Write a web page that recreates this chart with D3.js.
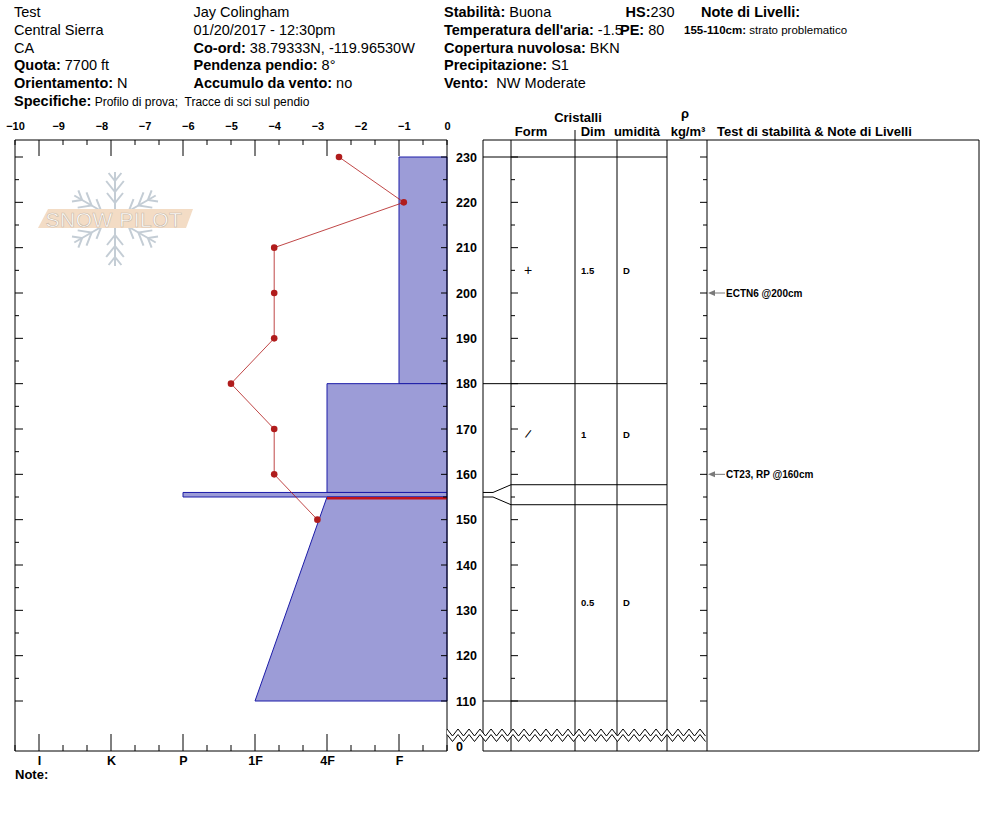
<!DOCTYPE html>
<html>
<head>
<meta charset="utf-8">
<script src="https://cdn.jsdelivr.net/npm/d3@7"></script>
<style>
  body { margin: 0; background: #fff; }
  text { font-family: Arial, "Liberation Sans", sans-serif; white-space: pre; }
</style>
</head>
<body>
<div id="chart"></div>
<script>
// ---- data ----
const headerCol1 = [["", "Test"], ["", "Central Sierra"], ["", "CA"], ["Quota:", " 7700 ft"], ["Orientamento:", " N"]];
const headerCol2 = [["", "Jay Colingham"], ["", "01/20/2017 - 12:30pm"], ["Co-ord:", " 38.79333N, -119.96530W"], ["Pendenza pendio:", " 8°"], ["Accumulo da vento:", " no"]];
const headerCol3 = [["Stabilità:", " Buona"], ["Temperatura dell'aria:", " -1.5"], ["Copertura nuvolosa:", " BKN"], ["Precipitazione:", " S1"], ["Vento:", "  NW Moderate"]];

const hardnessNames = ["F", "4F", "1F", "P", "K", "I"];
const tempTicks = [-10, -9, -8, -7, -6, -5, -4, -3, -2, -1, 0];

const layerTop = [230, 180, 156, 155];
const layerBottom = [180, 156, 155, 110];
const hardTop = ["F", "4F", "P", "4F"];
const hardBottom = ["F", "4F", "P", "1F"];
const grainForm = ["+", "/", "", ""];
const grainSize = ["1.5", "1", "", "0.5"];
const wetness = ["D", "D", "", "D"];

const tempDepth = [230, 220, 210, 200, 190, 180, 170, 160, 150];
const tempValue = [-2.5, -1, -4, -4, -4, -5, -4, -4, -3];

const testDepth = [200, 160];
const testLabel = ["ECTN6 @200cm", "CT23, RP @160cm"];

const criticalDepth = 155;
const depthTicks = d3.range(110, 231, 5);
const depthLabels = d3.range(110, 231, 10);

// ---- layout ----
const W = 994, H = 840;
const pLeft = 15, pRight = 447, pTop = 140, pBottom = 751;
const cols = [483, 511, 575, 617, 667, 707, 979];
const rowY = i => 17 + i * 17.8;

const svg = d3.select("#chart").append("svg")
    .attr("width", W)
    .attr("height", H);

const tempX = d3.scaleLinear().domain([-10, 0]).range([pLeft, pRight]);
const hardX = d3.scaleLinear().domain([1 / 3, 19 / 3]).range([pRight, pLeft]);
const hx = name => hardX(hardnessNames.indexOf(name) + 1);
const depthY = d3.scaleLinear().domain([110, 230]).range([701, 157]);

// ---- header ----
function headerColumn(rows, x) {
    rows.forEach((r, i) => {
        const t = svg.append("text")
            .attr("x", x)
            .attr("y", rowY(i))
            .style("font-size", "14.5px");
        t.append("tspan").style("font-weight", "bold").text(r[0]);
        t.append("tspan").text(r[1]);
    });
}
headerColumn(headerCol1, 14);
headerColumn(headerCol2, 193.5);
headerColumn(headerCol3, 444);

const hs = svg.append("text").attr("x", 625.5).attr("y", rowY(0)).style("font-size", "14.5px");
hs.append("tspan").style("font-weight", "bold").text("HS:");
hs.append("tspan").text("230");
const pe = svg.append("text").attr("x", 620).attr("y", rowY(1)).style("font-size", "14.5px");
pe.append("tspan").style("font-weight", "bold").text("PE:");
pe.append("tspan").text(" 80");
svg.append("text").attr("x", 701).attr("y", rowY(0))
    .style("font-size", "14.5px").style("font-weight", "bold").text("Note di Livelli:");
const ln = svg.append("text").attr("x", 684).attr("y", rowY(1) - 0.5).style("font-size", "11.5px");
ln.append("tspan").style("font-weight", "bold").text("155-110cm:");
ln.append("tspan").text(" strato problematico");

const spec = svg.append("text").attr("x", 14).attr("y", rowY(5));
spec.append("tspan").style("font-size", "14.5px").style("font-weight", "bold").text("Specifiche:");
spec.append("tspan").style("font-size", "12px").text(" Profilo di prova;  Tracce di sci sul pendio");

// ---- watermark logo ----
const logo = svg.append("g").attr("transform", "translate(115,219)");
d3.range(6).forEach(k => {
    const arm = logo.append("g").attr("transform", `rotate(${k * 60})`)
        .attr("stroke", "#c4cdd5").attr("stroke-width", 2).attr("fill", "none");
    arm.append("line").attr("x1", 0).attr("y1", 0).attr("x2", 0).attr("y2", -47);
    [[-16, 10], [-27, 11], [-38, 8]].forEach(([p, s]) => {
        arm.append("path").attr("d", `M${-s * 0.8},${p - s} L0,${p} L${s * 0.8},${p - s}`);
    });
});
logo.append("path")
    .attr("d", "M-67,-10 L78,-10 L71,9 L-77,9 Z")
    .attr("fill", "#f3dcc5");
logo.append("text")
    .attr("x", -1).attr("y", 7.5)
    .attr("text-anchor", "middle")
    .style("font-size", "21px")
    .style("letter-spacing", "0.5px")
    .attr("fill", "#fff")
    .attr("stroke", "#c9b7a5")
    .attr("stroke-width", 0.6)
    .text("SNOW PILOT");

// ---- hardness layers ----
const layers = layerTop.map((t, i) => ({
    top: t, bottom: layerBottom[i], ht: hardTop[i], hb: hardBottom[i],
    form: grainForm[i], size: grainSize[i], wet: wetness[i]
}));

svg.append("g").selectAll("path")
    .data(layers)
    .join("path")
    .attr("d", d => `M${hx(d.ht)},${depthY(d.top)} L${pRight},${depthY(d.top)} L${pRight},${depthY(d.bottom)} L${hx(d.hb)},${depthY(d.bottom)} Z`)
    .attr("fill", "#9c9cd7")
    .attr("stroke", "#1c1ca8")
    .attr("stroke-width", 1);

// critical layer marker
const crit = layers.find(d => d.top === criticalDepth);
svg.append("line")
    .attr("x1", hx(crit.ht)).attr("x2", pRight)
    .attr("y1", depthY(criticalDepth) + 1.2).attr("y2", depthY(criticalDepth) + 1.2)
    .attr("stroke", "#c0141c").attr("stroke-width", 2.4);

// ---- temperature profile ----
const temps = tempDepth.map((d, i) => ({ depth: d, t: tempValue[i] }));
svg.append("path")
    .datum(temps)
    .attr("d", d3.line().x(d => tempX(d.t)).y(d => depthY(d.depth)))
    .attr("fill", "none")
    .attr("stroke", "#b01818")
    .attr("stroke-width", 0.8);
svg.append("g").selectAll("circle")
    .data(temps)
    .join("circle")
    .attr("cx", d => tempX(d.t))
    .attr("cy", d => depthY(d.depth))
    .attr("r", 3.3)
    .attr("fill", "#b01c1c");

// ---- left frame and axes ----
const frame = svg.append("g").attr("stroke", "#000").attr("stroke-width", 1).attr("fill", "none");
frame.append("line").attr("x1", pLeft).attr("x2", pRight).attr("y1", pTop).attr("y2", pTop);
frame.append("line").attr("x1", pLeft).attr("x2", pRight).attr("y1", pBottom).attr("y2", pBottom);
frame.append("line").attr("x1", pLeft).attr("x2", pLeft).attr("y1", pTop).attr("y2", pBottom);
frame.append("line").attr("x1", pRight).attr("x2", pRight).attr("y1", pTop).attr("y2", pBottom);

const hardTicks = d3.range(1, 20).map(k => ({ v: k / 3, major: k % 3 === 0 }));
frame.append("g").selectAll("line").data(hardTicks).join("line")
    .attr("x1", d => hardX(d.v)).attr("x2", d => hardX(d.v))
    .attr("y1", pTop).attr("y2", d => pTop + (d.major ? 16 : 5));
frame.append("g").selectAll("line").data(hardTicks).join("line")
    .attr("x1", d => hardX(d.v)).attr("x2", d => hardX(d.v))
    .attr("y1", pBottom).attr("y2", d => pBottom - (d.major ? 17 : 6));

const topAxis = svg.append("g")
    .attr("transform", `translate(0,${pTop - 10})`)
    .call(d3.axisTop(tempX).tickValues(tempTicks).tickSize(0).tickPadding(0));
topAxis.select(".domain").remove();
topAxis.selectAll("text")
    .attr("y", 0).attr("dy", 0)
    .style("font-family", "Arial, 'Liberation Sans', sans-serif")
    .style("font-size", "11px").style("font-weight", "bold").attr("fill", "#000");

const botAxis = svg.append("g")
    .attr("transform", `translate(0,${pBottom})`)
    .call(d3.axisBottom(hardX).tickValues([1, 2, 3, 4, 5, 6])
        .tickFormat(i => hardnessNames[i - 1]).tickSize(0));
botAxis.select(".domain").remove();
botAxis.selectAll("text")
    .attr("y", 14).attr("dy", 0)
    .style("font-family", "Arial, 'Liberation Sans', sans-serif")
    .style("font-size", "12.5px").style("font-weight", "bold").attr("fill", "#000");

svg.append("text").attr("x", 15).attr("y", 779)
    .style("font-size", "13px").style("font-weight", "bold").text("Note:");

// depth ticks
function depthTickSet(x, dir, longLen, shortLen) {
    frame.append("g").selectAll("line").data(depthTicks).join("line")
        .attr("x1", x)
        .attr("x2", d => x + dir * (d % 10 === 0 ? longLen : shortLen))
        .attr("y1", d => depthY(d)).attr("y2", d => depthY(d));
}
depthTickSet(pLeft, 1, 8, 4);
depthTickSet(pRight, -1, 6, 4);
depthTickSet(cols[1], 1, 7, 4);
depthTickSet(cols[5], -1, 7, 4);

svg.append("g").selectAll("text").data(depthLabels).join("text")
    .attr("x", 456).attr("y", d => depthY(d) + 4.5)
    .style("font-size", "12.5px").style("font-weight", "bold")
    .text(d => d);

// ---- right table ----
const table = svg.append("g").attr("stroke", "#000").attr("stroke-width", 1).attr("fill", "none");
table.append("line").attr("x1", cols[0]).attr("x2", cols[6]).attr("y1", pTop).attr("y2", pTop);
table.append("line").attr("x1", cols[0]).attr("x2", cols[6]).attr("y1", pBottom).attr("y2", pBottom);
cols.forEach(x => {
    table.append("line").attr("x1", x).attr("x2", x).attr("y1", pTop).attr("y2", pBottom);
});
table.append("line").attr("x1", cols[2]).attr("x2", cols[2]).attr("y1", 130).attr("y2", pTop);

// layer boundaries with a minimum display thickness
const bounds = [layers[0].top].concat(layers.map(d => d.bottom));
const shown = bounds.map(depthY);
layers.forEach((d, i) => {
    const y0 = depthY(d.top), y1 = depthY(d.bottom);
    if (y1 - y0 < 20) {
        const m = (y0 + y1) / 2;
        shown[i] = m - 10;
        shown[i + 1] = m + 10;
    }
});
bounds.forEach((b, i) => {
    const y = depthY(b), ys = shown[i];
    table.append("path")
        .attr("d", `M${cols[0]},${y} L${cols[0] + 10},${y} L${cols[1]},${ys} L${cols[4]},${ys}`);
});

const cells = svg.append("g").style("font-size", "9.5px").style("font-weight", "bold");
layers.forEach((d, i) => {
    const m = (shown[i] + shown[i + 1]) / 2;
    if (d.form === "+") {
        svg.append("text").attr("x", 528).attr("y", m + 5)
            .attr("text-anchor", "middle").style("font-size", "14px").text(d.form);
    } else if (d.form === "/") {
        svg.append("text").attr("x", 528).attr("y", m + 4)
            .attr("text-anchor", "middle").style("font-size", "12px")
            .attr("transform", `rotate(22,528,${m})`).text(d.form);
    }
    cells.append("text").attr("x", 581).attr("y", m + 3.5).text(d.size);
    cells.append("text").attr("x", 623).attr("y", m + 3.5).text(d.wet);
});

// column headers
const head = svg.append("g").style("font-size", "13px").style("font-weight", "bold").attr("text-anchor", "middle");
head.append("text").attr("x", 578).attr("y", 122).text("Cristalli");
head.append("text").attr("x", 531).attr("y", 136).text("Form");
head.append("text").attr("x", 593).attr("y", 136).text("Dim");
head.append("text").attr("x", 637).attr("y", 136).text("umidità");
head.append("text").attr("x", 685).attr("y", 118).text("ρ");
head.append("text").attr("x", 688).attr("y", 136).text("kg/m³");
head.append("text").attr("x", 717).attr("y", 136).attr("text-anchor", "start")
    .text("Test di stabilità & Note di Livelli");

// stability tests
testDepth.forEach((dp, i) => {
    const y = depthY(dp);
    svg.append("line").attr("x1", cols[5] + 4).attr("x2", 725)
        .attr("y1", y).attr("y2", y).attr("stroke", "#7a7a7a").attr("stroke-width", 1);
    svg.append("path")
        .attr("d", `M${cols[5] + 1},${y} L${cols[5] + 8},${y - 3} L${cols[5] + 8},${y + 3} Z`)
        .attr("fill", "#7a7a7a");
    svg.append("text").attr("x", 726).attr("y", y + 3.8)
        .style("font-size", "10px").style("font-weight", "bold").text(testLabel[i]);
});

// ---- depth break zigzag ----
const zx = d3.range(pRight, cols[5] + 0.1, 5.5);
const upper = zx.map((x, i) => [x, i % 2 ? 736 : 729]);
const lower = upper.map(([x, y]) => [x, y + 5.5]);
svg.append("path")
    .attr("d", d3.line()(upper.concat(lower.slice().reverse())) + "Z")
    .attr("fill", "#fff").attr("stroke", "none");
[upper, lower].forEach(pts => {
    svg.append("path").attr("d", d3.line()(pts))
        .attr("fill", "none").attr("stroke", "#000").attr("stroke-width", 1);
});
svg.append("text").attr("x", 456).attr("y", 751)
    .style("font-size", "12.5px").style("font-weight", "bold").text("0");
</script>
</body>
</html>
